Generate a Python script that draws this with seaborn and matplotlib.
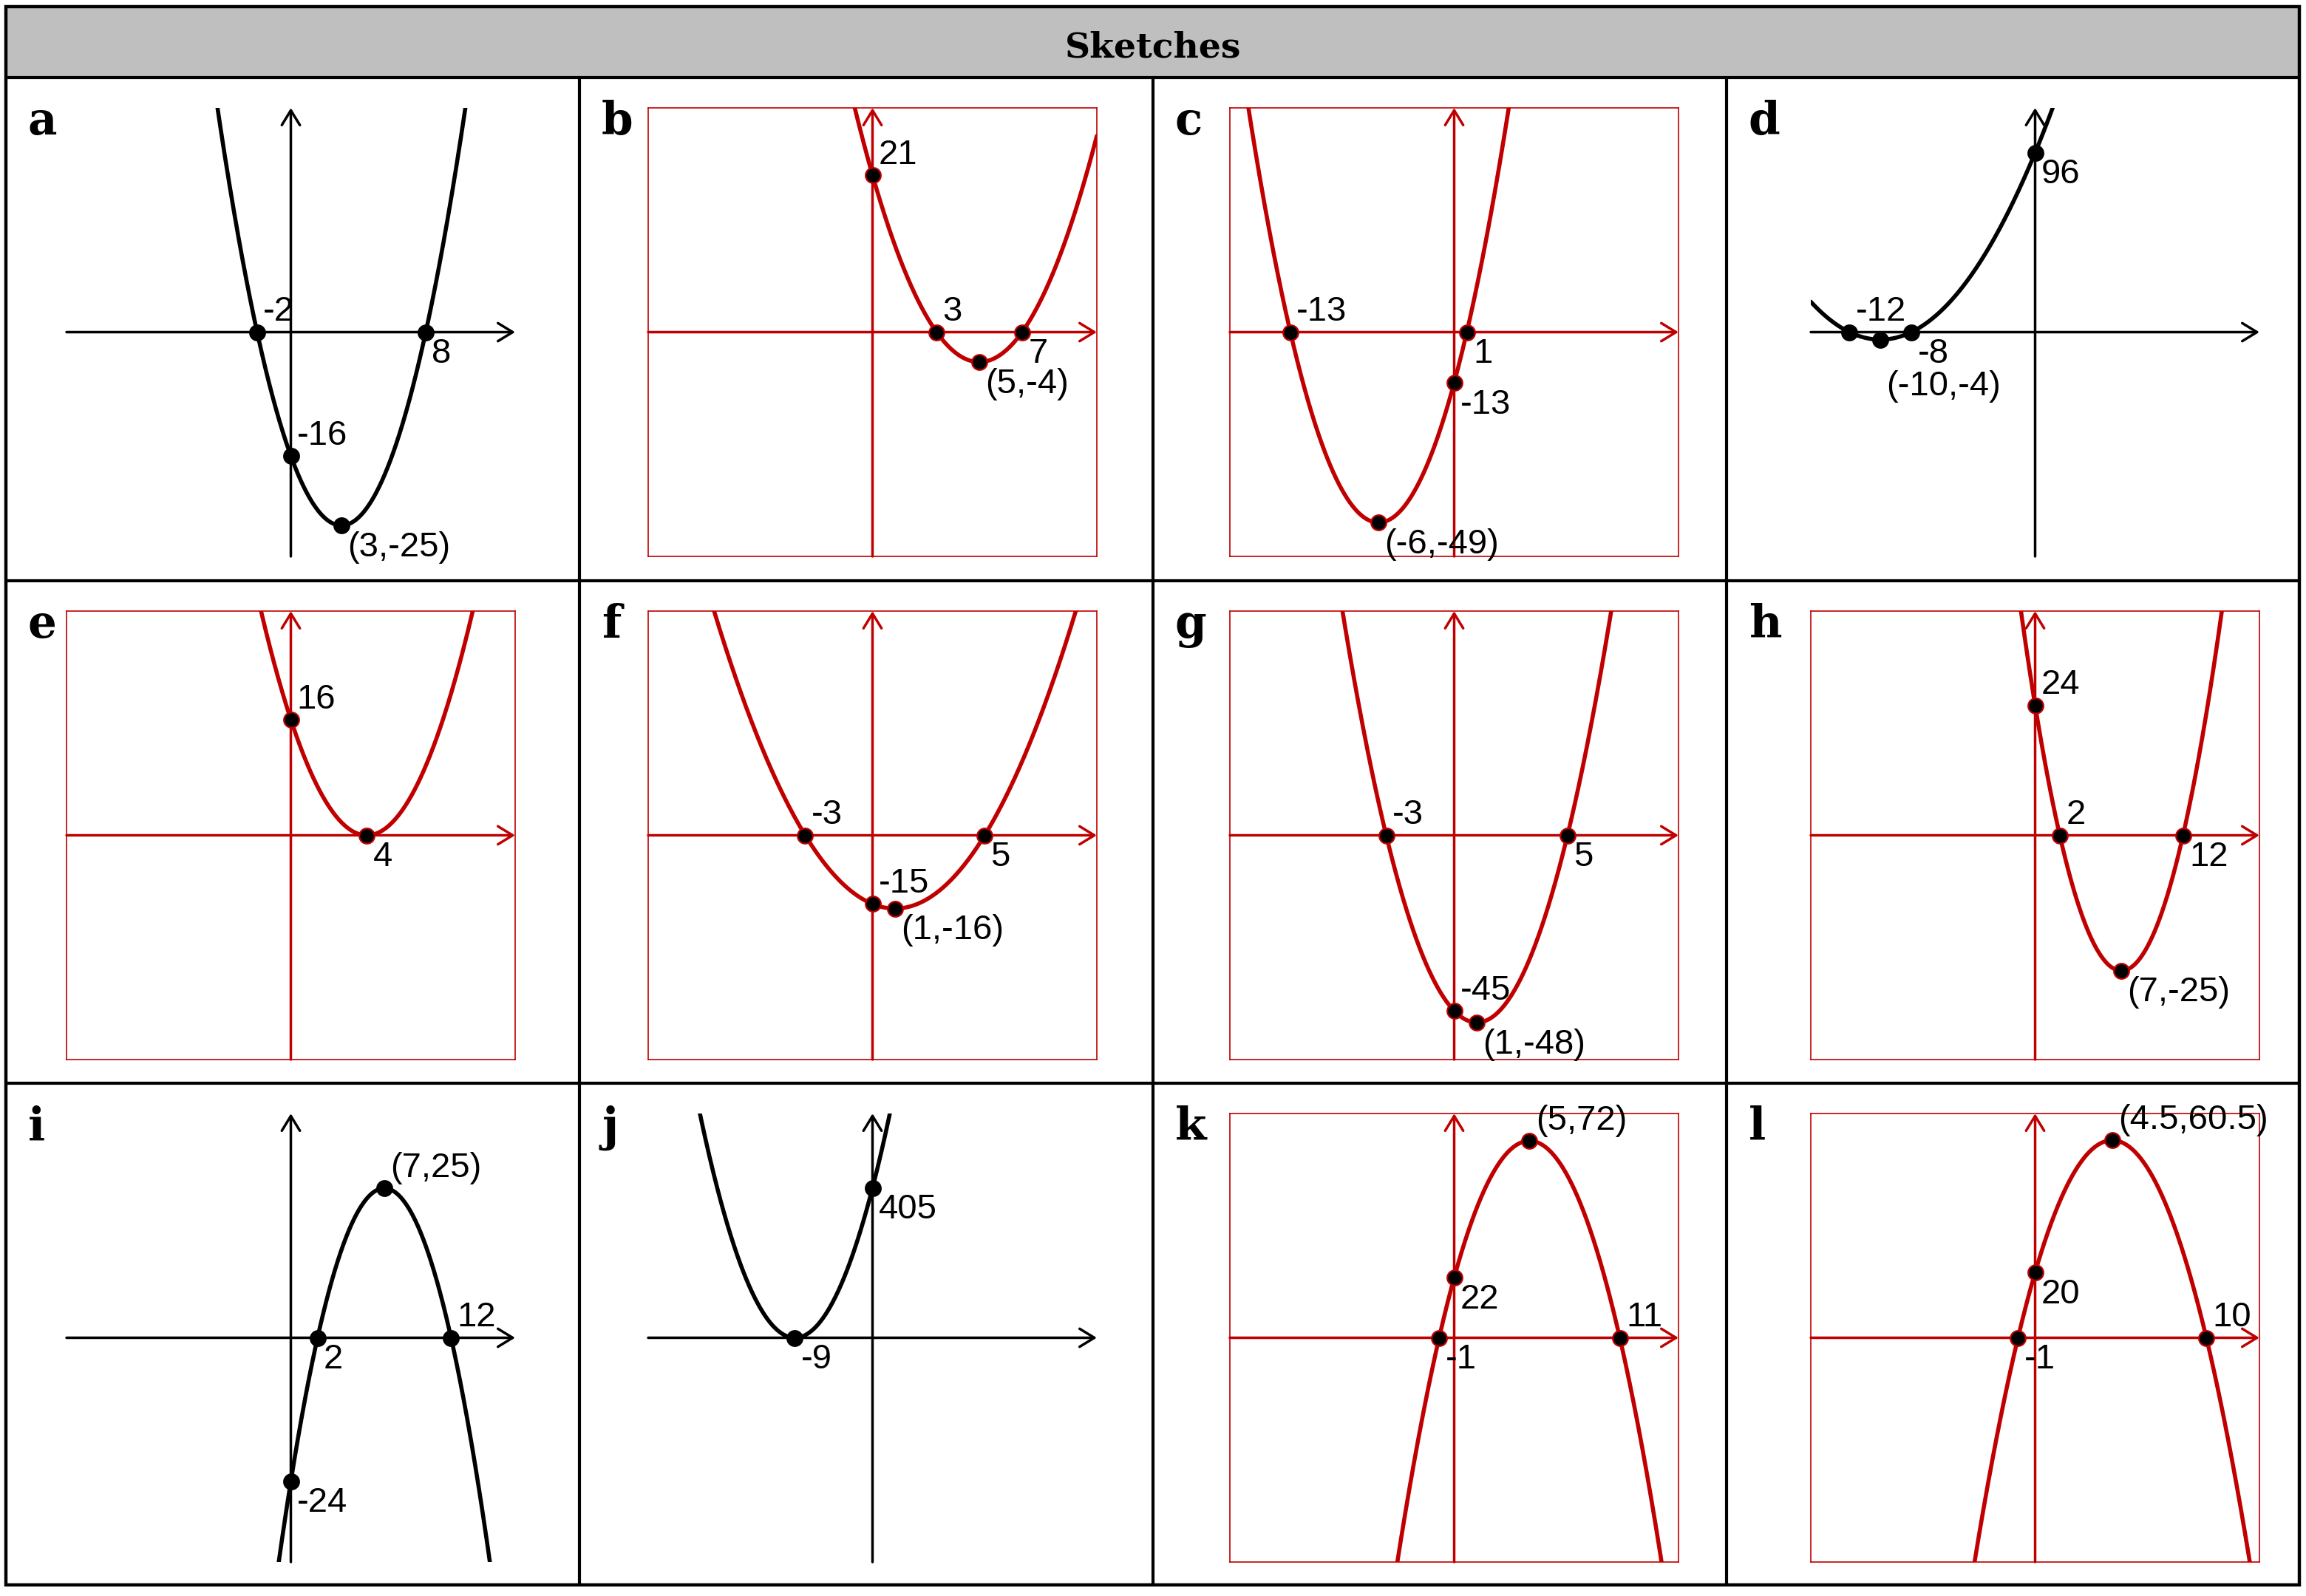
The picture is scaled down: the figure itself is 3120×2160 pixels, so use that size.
import numpy as np
import matplotlib
matplotlib.use('Agg')
import matplotlib.pyplot as plt
import seaborn as sns
from matplotlib.patches import Rectangle

sns.set_theme(style='white')
plt.rcParams['font.family'] = ['Liberation Sans', 'DejaVu Sans']
plt.rcParams['text.color'] = 'black'

RED = '#c00000'

## datos de cada bosquejo (y = A x^2 + B x + C)
panel_ids = ['a', 'b', 'c', 'd', 'e', 'f', 'g', 'h', 'i', 'j', 'k', 'l']
red_panel = [False, True, True, False, True, True, True, True, False, False, True, True]
coef_A = [1, 1, 1, 1, 1, 1, 3, 1, -1, 5, -2, -2]
coef_B = [-6, -10, 12, 20, -8, -2, -6, -14, 14, 90, 20, 18]
coef_C = [-16, 21, -13, 96, 16, -15, -45, 24, -24, 405, 22, 20]

# puntos marcados en cada bosquejo
pts_x = [[-2, 8, 0, 3], [0, 3, 7, 5], [-13, 1, 0, -6], [0, -12, -8, -10],
         [0, 4], [-3, 5, 0, 1], [-3, 5, 0, 1], [0, 2, 12, 7],
         [7, 12, 2, 0], [0, -9], [5, 0, -1, 11], [4.5, 0, -1, 10]]
pts_y = [[0, 0, -16, -25], [21, 0, 0, -4], [0, 0, -13, -49], [96, 0, 0, -4],
         [16, 0], [0, 0, -15, -16], [0, 0, -45, -48], [24, 0, 0, -25],
         [25, 0, 0, -24], [405, 0], [72, 22, 0, 0], [60.5, 20, 0, 0]]
pts_lbl = [['-2', '8', '-16', '(3,-25)'], ['21', '3', '7', '(5,-4)'],
           ['-13', '1', '-13', '(-6,-49)'], ['96', '-12', '-8', '(-10,-4)'],
           ['16', '4'], ['-3', '5', '-15', '(1,-16)'], ['-3', '5', '-45', '(1,-48)'],
           ['24', '2', '12', '(7,-25)'], ['(7,25)', '12', '2', '-24'], ['405', '-9'],
           ['(5,72)', '22', '-1', '11'], ['(4.5,60.5)', '20', '-1', '10']]

# donde va cada etiqueta: arriba-derecha / abajo-derecha
lbl_pos = [['ur', 'lr', 'ur', 'lr'], ['ur', 'ur', 'lr', 'lr'], ['ur', 'lr', 'lr', 'lr'],
           ['lr', 'ur', 'lr', 'lr'], ['ur', 'lr'], ['ur', 'lr', 'ur', 'lr'],
           ['ur', 'lr', 'ur', 'lr'], ['ur', 'ur', 'lr', 'lr'], ['ur', 'ur', 'lr', 'lr'],
           ['lr', 'lr'], ['ur', 'lr', 'lr', 'ur'], ['ur', 'lr', 'lr', 'ur']]
# corrimiento extra hacia abajo (pt) de alguna etiqueta
lbl_extra = {(3, 3): -12}

# medio rango de los ejes de cada bosquejo
x_half = [13.3, 10.5, 17.8, 14.5, 11.8, 10.0, 9.9, 18.2, 16.8, 26, 14.9, 13.1]
y_half = [29, 30, 57.7, 120, 31, 49, 57.5, 41.4, 37.5, 606, 82, 68.7]

# GRAFICO
W, H = 3120, 2160
fig = plt.figure(figsize=(15.6, 10.8), dpi=200)

bg = fig.add_axes([0, 0, 1, 1], zorder=-1)
bg.set_xlim(0, W)
bg.set_ylim(H, 0)
bg.axis('off')

cell_x = [8, 784, 1560, 2336, 3111]
cell_y = [105, 786, 1466, 2145]
frame_x = [90, 877, 1664, 2450]
frame_y = [146, 827, 1507]
FS = 607

bg.add_patch(Rectangle((8, 9), 3103, 96, facecolor='#bfbfbf', edgecolor='none'))
bg.add_patch(Rectangle((8, 9), 3103, 2136, facecolor='none', edgecolor='black', lw=1.6))
bg.plot([8, 3111], [105, 105], color='black', lw=1.5)
for yy in cell_y[1:3]:
    bg.plot([8, 3111], [yy, yy], color='black', lw=1.5)
for xx in cell_x[1:4]:
    bg.plot([xx, xx], [105, 2145], color='black', lw=1.5)
bg.text(1560, 77, 'Sketches', ha='center', va='baseline', fontsize=17,
        fontweight='bold', family='DejaVu Serif', color='black')

for n, pid in enumerate(panel_ids):
    row, col = n // 4, n % 4
    bg.text(cell_x[col] + 30, cell_y[row] + 77, pid, ha='left', va='baseline',
            fontsize=22, fontweight='bold', family='DejaVu Serif', color='black')

    c = RED if red_panel[n] else 'black'
    ax = fig.add_axes([frame_x[col] / W, 1 - (frame_y[row] + FS) / H, FS / W, FS / H])
    ax.set_facecolor('none')
    xh, yh = x_half[n], y_half[n]

    xs = np.linspace(-xh, xh, 800)
    ys = coef_A[n] * xs ** 2 + coef_B[n] * xs + coef_C[n]
    sns.lineplot(x=xs, y=ys, ax=ax, color=c, linewidth=2.0, estimator=None,
                 sort=False, legend=False, zorder=3)

    # ejes con flecha
    arr = dict(arrowstyle='->,head_length=0.36,head_width=0.22', color=c, lw=1.25,
               shrinkA=0, shrinkB=0, mutation_scale=20)
    ax.annotate('', xy=(1, 0), xytext=(0, 0), xycoords=ax.get_yaxis_transform(),
                textcoords=ax.get_yaxis_transform(), arrowprops=arr, zorder=2)
    ax.annotate('', xy=(0, 1), xytext=(0, 0), xycoords=ax.get_xaxis_transform(),
                textcoords=ax.get_xaxis_transform(), arrowprops=arr, zorder=2)

    sns.scatterplot(x=pts_x[n], y=pts_y[n], ax=ax, s=55, color='black',
                    edgecolor=c, linewidth=0.8, zorder=5, legend=False, clip_on=False)
    for k, (px, py, t, p) in enumerate(zip(pts_x[n], pts_y[n], pts_lbl[n], lbl_pos[n])):
        dy = 5.5 if p == 'ur' else -15
        dy += lbl_extra.get((n, k), 0)
        ax.annotate(t, xy=(px, py), xytext=(3, dy), textcoords='offset points',
                    ha='left', va='baseline', fontsize=17, color='black', zorder=6)

    ax.set_xlim(-xh, xh)
    ax.set_ylim(-yh, yh)
    ax.set_xticks([])
    ax.set_yticks([])
    ax.set_xlabel('')
    ax.set_ylabel('')
    for s in ax.spines.values():
        s.set_visible(red_panel[n])
        s.set_color(RED)
        s.set_linewidth(0.6)

fig.savefig('out.png', dpi=200)
